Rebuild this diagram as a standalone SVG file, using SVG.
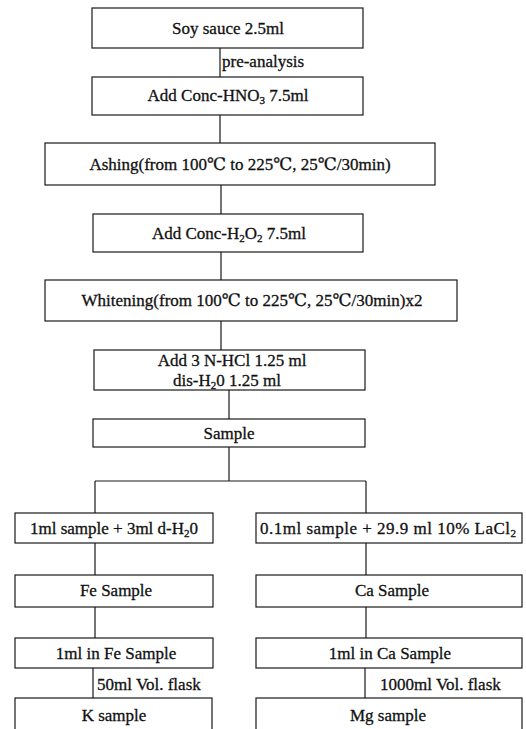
<svg xmlns="http://www.w3.org/2000/svg" width="526" height="729" viewBox="0 0 526 729">
<style>
.box{fill:#fff;stroke:#1a1a1a;stroke-width:1.2}
.ln{stroke:#1a1a1a;stroke-width:1.2;fill:none}
text{font-family:"Liberation Serif","DejaVu Serif","Noto Sans CJK KR",serif;font-size:17px;fill:#111;stroke:#111;stroke-width:0.3}
.c{text-anchor:middle}
.sub{font-size:11px}
</style>
<rect width="526" height="729" fill="#fff"/>
<g id="connectors">
<path class="ln" d="M220 48V77M220 115V143M221 185V214M221 252V280M221 321V350M229 390V419M229 447V481M95 481H366M95 481V513M366 481V513M95 543V575M366 543V575M95 607V638M366 607V638M93 668V698M365 668V698"/>
<text x="222" y="67">pre-analysis</text>
<text x="97" y="690">50ml Vol. flask</text>
<text x="380" y="690">1000ml Vol. flask</text>
</g>
<g id="n1"><rect class="box" x="92" y="8" width="271" height="40"/><text class="c" x="228" y="34">Soy sauce 2.5ml</text></g>
<g id="n2"><rect class="box" x="92" y="77" width="271" height="38"/><text class="c" x="228" y="101">Add Conc-HNO<tspan class="sub" dy="3">3</tspan><tspan dy="-3"> 7.5ml</tspan></text></g>
<g id="n3"><rect class="box" x="45" y="143" width="390" height="42"/><text class="c" x="240" y="170">Ashing(from 100℃ to 225℃, 25℃/30min)</text></g>
<g id="n4"><rect class="box" x="93" y="214" width="270" height="38"/><text class="c" x="229" y="239">Add Conc-H<tspan class="sub" dy="3">2</tspan><tspan dy="-3">O</tspan><tspan class="sub" dy="3">2</tspan><tspan dy="-3"> 7.5ml</tspan></text></g>
<g id="n5"><rect class="box" x="45" y="280" width="412" height="41"/><text class="c" x="252" y="306">Whitening(from 100℃ to 225℃, 25℃/30min)x2</text></g>
<g id="n6"><rect class="box" x="94" y="350" width="271" height="40"/><text class="c" x="232" y="366">Add 3 N-HCl 1.25 ml</text><text class="c" x="227" y="386">dis-H<tspan class="sub" dy="3">2</tspan><tspan dy="-3">0 1.25 ml</tspan></text></g>
<g id="n7"><rect class="box" x="93" y="419" width="272" height="28"/><text class="c" x="229" y="439">Sample</text></g>
<g id="n8"><rect class="box" x="15" y="513" width="198" height="30"/><text class="c" x="114" y="534">1ml sample + 3ml d-H<tspan class="sub" dy="3">2</tspan><tspan dy="-3">0</tspan></text></g>
<g id="n9"><rect class="box" x="256" y="513" width="266" height="30"/><text class="c" x="388" y="534" textLength="256">0.1ml sample + 29.9 ml 10% LaCl<tspan class="sub" dy="3">2</tspan></text></g>
<g id="n10"><rect class="box" x="15" y="575" width="198" height="32"/><text class="c" x="116" y="596">Fe Sample</text></g>
<g id="n11"><rect class="box" x="256" y="575" width="266" height="32"/><text class="c" x="392" y="596">Ca Sample</text></g>
<g id="n12"><rect class="box" x="15" y="638" width="198" height="30"/><text class="c" x="116" y="659">1ml in Fe Sample</text></g>
<g id="n13"><rect class="box" x="256" y="638" width="266" height="30"/><text class="c" x="390" y="659">1ml in Ca Sample</text></g>
<g id="n14"><rect class="box" x="15" y="698" width="197" height="40"/><text class="c" x="114" y="721">K sample</text></g>
<g id="n15"><rect class="box" x="256" y="698" width="266" height="40"/><text class="c" x="388" y="721">Mg sample</text></g>
</svg>
